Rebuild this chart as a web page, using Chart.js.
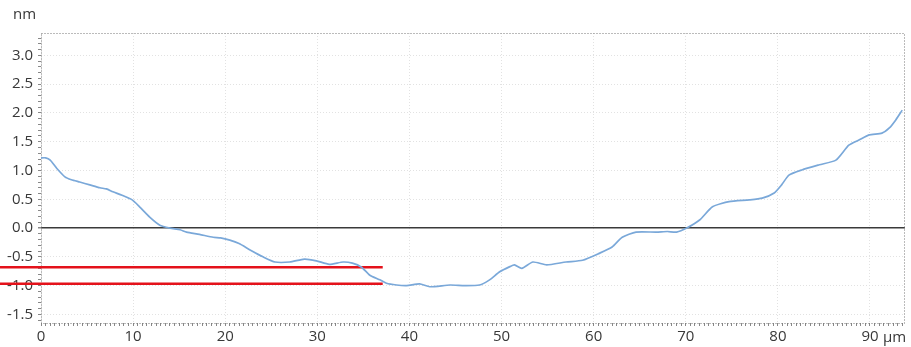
<!DOCTYPE html>
<html>
<head>
<meta charset="utf-8">
<script src="https://cdn.jsdelivr.net/npm/chart.js@4.4.1/dist/chart.umd.min.js"></script>
<style>
    html, body { margin: 0; padding: 0; background: #fff; }
    #wrap { width: 911px; height: 347px; }
</style>
</head>
<body>
<div id="wrap"><canvas id="perfilChart"></canvas></div>
<script>
// Datos del perfil (posicion en um, altura en nm)
var posX = [0.0, 0.5, 1.0, 1.7, 2.6, 3.3, 4.2, 5.3, 6.4, 7.1, 7.8, 8.8, 9.9, 10.7, 11.8, 12.9, 14.0,
    15.1, 15.8, 17.2, 18.7, 19.5, 20.5, 21.5, 22.7, 24.1, 25.4, 27.0, 28.6, 29.9, 31.3, 32.8, 33.8,
    34.8, 35.7, 36.8, 37.5, 38.6, 39.7, 41.1, 42.2, 44.4, 46.0, 47.6, 48.7, 49.8, 50.9, 51.4, 52.2,
    53.4, 54.9, 57.0, 58.8, 60.6, 62.0, 63.1, 64.6, 66.8, 68.0, 69.0, 70.1, 71.5, 72.9, 74.7, 76.9,
    78.3, 79.6, 80.4, 81.2, 82.6, 84.5, 86.3, 87.7, 88.8, 89.9, 91.3, 92.1, 92.8, 93.5];
var altura = [1.22, 1.22, 1.18, 1.04, 0.89, 0.84, 0.80, 0.75, 0.70, 0.68, 0.63, 0.57, 0.49, 0.37, 0.19, 0.05, 0.00,
    -0.03, -0.07, -0.11, -0.16, -0.17, -0.21, -0.27, -0.38, -0.50, -0.59, -0.59, -0.54, -0.57, -0.63, -0.59, -0.61,
    -0.68, -0.82, -0.90, -0.96, -0.99, -1.00, -0.97, -1.02, -0.99, -1.00, -0.99, -0.90, -0.76, -0.67, -0.64, -0.70,
    -0.59, -0.64, -0.59, -0.56, -0.44, -0.33, -0.16, -0.07, -0.07, -0.06, -0.07, 0.00, 0.14, 0.37, 0.46, 0.49,
    0.52, 0.61, 0.75, 0.92, 1.01, 1.10, 1.18, 1.44, 1.53, 1.62, 1.65, 1.74, 1.88, 2.05];

// Lineas rojas de referencia
var rojaX = [-4.45, 37.1];
var rojaArriba = [-0.68, -0.68];
var rojaAbajo = [-0.97, -0.97];

// Etiquetas de los ejes
var etiquetasX = [0, 10, 20, 30, 40, 50, 60, 70, 80, 90];
var etiquetasY = [-1.5, -1.0, -0.5, 0.0, 0.5, 1.0, 1.5, 2.0, 2.5, 3.0];
var unidadX = 'µm';
var unidadY = 'nm';

function puntos(xs, ys) {
    return xs.map(function(x, i) { return { x: x, y: ys[i] }; });
}
function esMayor(lista, v) {
    return lista.some(function(l) { return Math.abs(l - v) < 1e-6; });
}

var fuente = { family: '"Open Sans", "DejaVu Sans", sans-serif', size: 15 };

// Marco punteado y textos de unidades
var marcoPlugin = {
    id: 'marco',
    beforeDatasetsDraw: function(chart) {
        var a = chart.chartArea, c = chart.ctx;
        c.save();
        c.strokeStyle = '#777';
        c.lineWidth = 1;
        c.setLineDash([1, 2]);
        c.strokeRect(a.left + 0.5, a.top + 0.5, a.right - a.left - 1, a.bottom - a.top);
        c.restore();
    },
    afterDraw: function(chart) {
        var c = chart.ctx, a = chart.chartArea;
        var xs = chart.scales.x;
        c.save();
        c.fillStyle = '#383838';
        c.font = fuente.size + 'px ' + fuente.family;
        c.textBaseline = 'alphabetic';
        c.textAlign = 'left';
        c.fillText(unidadY, 13, 19);
        c.fillText(unidadX, xs.getPixelForValue(etiquetasX[etiquetasX.length - 1]) + 13, a.bottom + 19);
        c.restore();
    }
};

var ctx = document.getElementById('perfilChart').getContext('2d');
var perfilChart = new Chart(ctx, {
    type: 'line',
    data: {
        datasets: [{
            data: puntos(posX, altura),
            borderColor: '#7aa8d9',
            borderWidth: 1.7,
            pointRadius: 0,
            tension: 0.2
        }, {
            data: puntos(rojaX, rojaArriba),
            borderColor: '#e4121b',
            borderWidth: 2.5,
            pointRadius: 0,
            clip: false
        }, {
            data: puntos(rojaX, rojaAbajo),
            borderColor: '#e4121b',
            borderWidth: 2.5,
            pointRadius: 0,
            clip: false
        }]
    },
    options: {
        responsive: true,
        maintainAspectRatio: false,
        animation: false,
        layout: { padding: { top: 33, right: 6, left: 0, bottom: 0 } },
        plugins: { legend: { display: false }, tooltip: { enabled: false } },
        scales: {
            x: {
                type: 'linear',
                min: 0,
                max: 93.8,
                afterFit: function(s) { s.height = 24; },
                afterBuildTicks: function(s) {
                    var t = [];
                    for (var v = 0; v <= 93.5; v += 0.5) t.push({ value: Math.round(v * 10) / 10 });
                    s.ticks = t;
                },
                ticks: {
                    autoSkip: false,
                    maxRotation: 0,
                    padding: 2,
                    color: '#383838',
                    font: fuente,
                    callback: function(v) { return esMayor(etiquetasX, v) ? String(v) : ''; }
                },
                grid: {
                    color: function(c) { return c.tick && esMayor(etiquetasX, c.tick.value) ? '#e2e2e2' : 'rgba(0,0,0,0)'; },
                    tickColor: '#888',
                    tickLength: 3,
                    lineWidth: 1
                },
                border: { display: false, dash: [1, 2] }
            },
            y: {
                type: 'linear',
                min: -1.65,
                max: 3.39,
                afterFit: function(s) { s.width = 41; },
                afterBuildTicks: function(s) {
                    var t = [];
                    for (var v = -16; v <= 33; v += 1) t.push({ value: Math.round(v) / 10 });
                    s.ticks = t;
                },
                ticks: {
                    autoSkip: false,
                    padding: 5,
                    color: '#383838',
                    font: fuente,
                    callback: function(v) { return esMayor(etiquetasY, v) ? v.toFixed(1) : ''; }
                },
                grid: {
                    color: function(c) {
                        if (!c.tick) return 'rgba(0,0,0,0)';
                        if (Math.abs(c.tick.value) < 1e-6) return '#3a3a3a';
                        return esMayor(etiquetasY, c.tick.value) ? '#e2e2e2' : 'rgba(0,0,0,0)';
                    },
                    lineWidth: function(c) { return c.tick && Math.abs(c.tick.value) < 1e-6 ? 1.5 : 1; },
                    tickColor: '#888',
                    tickLength: 3
                },
                border: {
                    display: false,
                    dash: function(c) { return c.tick && Math.abs(c.tick.value) < 1e-6 ? [] : [1, 2]; }
                }
            }
        }
    },
    plugins: [marcoPlugin]
});
</script>
</body>
</html>
